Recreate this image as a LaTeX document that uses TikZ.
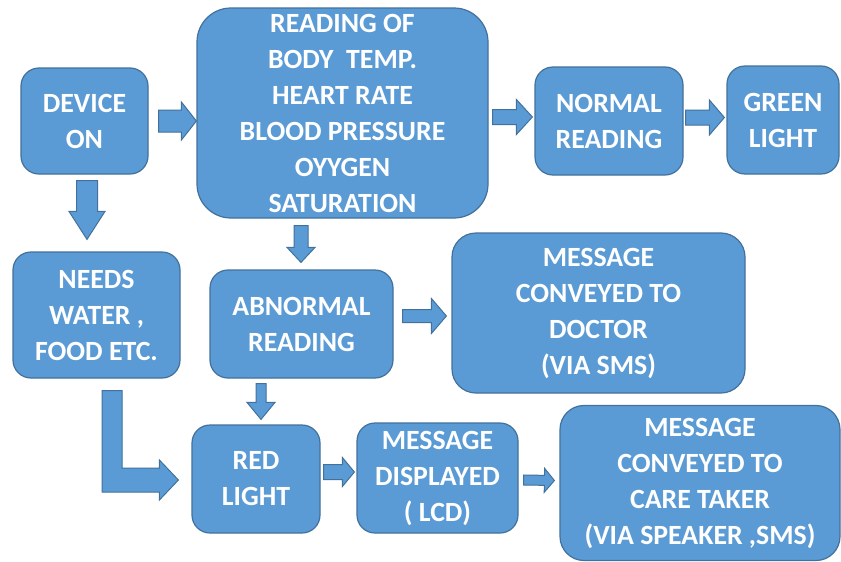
\documentclass[tikz,border=0pt]{standalone}
\usepackage{fontspec}
\setmainfont{Carlito}
\usetikzlibrary{calc}
\definecolor{boxfill}{HTML}{5B9BD5}
\definecolor{boxline}{HTML}{41719C}
\tikzset{
  box/.style={draw=boxline, fill=boxfill, line width=1.2pt, rounded corners=18pt,
    text=white, align=center, inner sep=0pt,
    font=\fontsize{27.8}{36}\selectfont\bfseries},
  blk/.style={draw=boxline, fill=boxfill, line width=1pt, line join=miter}
}
\newcommand{\blkarrow}[5]{%
  \coordinate (bP) at #1;
  \coordinate (bQ) at #2;
  \coordinate (bH) at ($(bQ)!#5!(bP)$);
  \filldraw[blk] ($(bP)!#3!90:(bQ)$) -- ($(bH)!#3!-90:(bP)$) -- ($(bH)!#4!-90:(bP)$)
    -- (bQ) -- ($(bH)!#4!90:(bP)$) -- ($(bH)!#3!90:(bP)$) -- ($(bP)!#3!-90:(bQ)$) -- cycle;
}
\begin{document}
\begin{tikzpicture}[x=1pt,y=-1pt]
\useasboundingbox[fill=white] (0,0) rectangle (841,562);
\node[box, minimum width=127pt, minimum height=106pt] (dev) at (84.5,121) {DEVICE\\ON};
\node[box, minimum width=291pt, minimum height=210pt, rounded corners=34pt] (read) at (342.5,113)
  {READING OF\\BODY\ \ TEMP.\\HEART RATE\\BLOOD PRESSURE\\OYYGEN\\SATURATION};
\node[box, minimum width=148pt, minimum height=108pt] (norm) at (609,121) {NORMAL\\READING};
\node[box, minimum width=112pt, minimum height=108pt] (green) at (783,120) {GREEN\\LIGHT};
\node[box, minimum width=167pt, minimum height=126pt] (needs) at (96.5,315) {NEEDS\\WATER ,\\FOOD ETC.};
\node[box, minimum width=183pt, minimum height=108pt] (abn) at (301.5,324) {ABNORMAL\\READING};
\node[box, minimum width=293pt, minimum height=160pt, rounded corners=24pt] (doc) at (598.5,313)
  {MESSAGE\\CONVEYED TO\\DOCTOR\\(VIA SMS)};
\node[box, minimum width=128pt, minimum height=108pt] (red) at (256,479) {RED\\LIGHT};
\node[box, minimum width=161pt, minimum height=110pt] (disp) at (437.5,478) {MESSAGE\\DISPLAYED\\( LCD)};
\node[box, minimum width=280pt, minimum height=155pt, rounded corners=24pt] (care) at (700,483)
  {MESSAGE\\CONVEYED TO\\CARE TAKER\\(VIA SPEAKER ,SMS)};
% block arrows
\blkarrow{($(dev.east)+(10,0)$)}{($(dev.east -| read.west)$)}{11pt}{19pt}{15pt}
\blkarrow{($(dev.south)+(2.5,6)$)}{($(needs.north)+(-9.5,-12)$)}{10.5pt}{18pt}{28pt}
\blkarrow{($(read.east)+(4,4)$)}{($(norm.west)+(-2,-4)$)}{7.5pt}{17.5pt}{16pt}
\blkarrow{($(norm.east)+(2,-3.5)$)}{($(green.west)+(-2,-2.5)$)}{7.5pt}{17.5pt}{15pt}
\blkarrow{($(read.south)+(-41.5,7)$)}{($(abn.north)+(-0.5,-7)$)}{7pt}{14pt}{15pt}
\blkarrow{($(abn.east)+(9,-8)$)}{($(doc.west)+(-5,3)$)}{6.5pt}{17.5pt}{15pt}
\blkarrow{($(abn.south)+(-40.5,5)$)}{($(red.north)+(5,-5)$)}{5pt}{14pt}{17pt}
\blkarrow{($(red.east)+(3,-7)$)}{($(disp.west)+(-2,-6)$)}{7.5pt}{14.5pt}{12pt}
\blkarrow{($(disp.east)+(5,2)$)}{($(care.west)+(-5,-2.5)$)}{5pt}{12pt}{10pt}
% L-shaped arrow from needs to red
\coordinate (lt) at ($(needs.south)+(15.5,12)$);
\coordinate (ltip) at ($(red.west)+(-13,1)$);
\filldraw[blk] ($(lt)+(-10,0)$) -- ($(lt)+(10,0)$) -- ($(lt |- ltip)+(10,-12)$)
  -- ($(ltip)+(-19,-12)$) -- ($(ltip)+(-19,-20)$) -- (ltip) -- ($(ltip)+(-19,20)$)
  -- ($(ltip)+(-19,12)$) -- ($(lt |- ltip)+(-10,12)$) -- cycle;
\end{tikzpicture}
\end{document}
